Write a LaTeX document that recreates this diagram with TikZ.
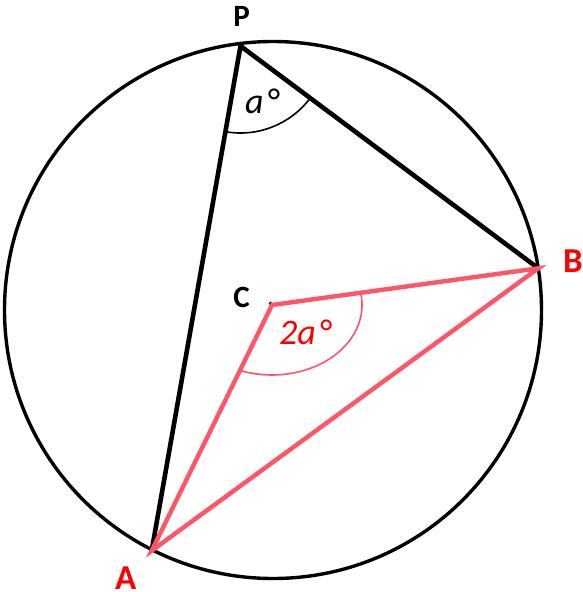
\documentclass[tikz,border=0pt]{standalone}
\usepackage{fontspec}
\setmainfont{Carlito}
\usetikzlibrary{calc}
\definecolor{salmon}{RGB}{255,85,105}
\definecolor{labred}{RGB}{255,0,0}
\begin{document}
\begin{tikzpicture}[x=1pt,y=-1pt,
  rim/.style={line width=3.4pt},
  blackline/.style={line width=4.6pt},
  redline/.style={line width=4.4pt, draw=salmon},
  thinarc/.style={line width=1.6pt},
  lblbold/.style={font=\fontsize{31}{36}\selectfont\bfseries, inner sep=0pt},
  lblred/.style={font=\fontsize{35}{40}\selectfont\bfseries, text=labred, inner sep=0pt},
  lblital/.style={font=\fontsize{36}{42}\selectfont\itshape, inner sep=0pt}]
\useasboundingbox (0,0) rectangle (583,592);
\coordinate (O) at (273,310);
\coordinate (P) at (240.5,46);
\coordinate (A) at (151.7,550.7);
\coordinate (B) at (538.3,268.3);
\coordinate (C) at (272,305);
\coordinate (Cdot) at (270.5,303.5);
\draw[rim] (O) circle[radius=268.5];
\draw[blackline] (A) -- (P) -- (B);
\draw[thinarc] ($(P)!87pt!(B)$) arc[start angle=36.74, end angle=99.98, radius=87];
\fill (Cdot) circle[radius=1.8];
\draw[redline] (A) -- (C) -- (B) -- cycle;
\draw[thinarc, draw=salmon] ([shift={(-10.05:90 and 70)}]C) arc[start angle=-10.05, end angle=110.85, x radius=90, y radius=70];
\node[lblbold] (Plab) at (241.7,16) {P};
\node[lblbold] (Clab) at (241.7,297.5) {C};
\node[lblred] (Blab) at (573,261) {B};
\node[lblred] (Alab) at (125.8,578.5) {A};
\node[lblital] (alab) at (262,101) {a\kern3pt°};
\node[lblital, text=labred] (twoalab) at (305,332) {2a\kern3pt°};
\end{tikzpicture}
\end{document}
